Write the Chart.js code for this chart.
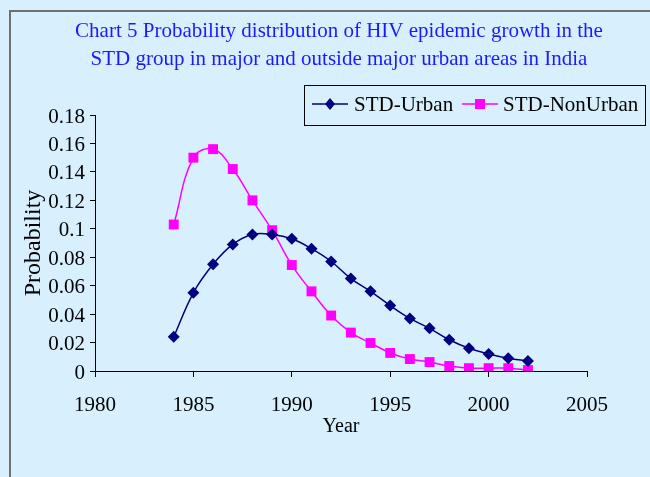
<!DOCTYPE html>
<html>
<head>
<meta charset="utf-8">
<script src="https://cdn.jsdelivr.net/npm/chart.js@4"></script>
<style>
  html, body { margin: 0; padding: 0; background: #d8f0fe; }
  canvas { display: block; }
</style>
</head>
<body>
<canvas id="chart" width="650" height="477"></canvas>
<script>
const years = [1984, 1985, 1986, 1987, 1988, 1989, 1990, 1991, 1992, 1993,
  1994, 1995, 1996, 1997, 1998, 1999, 2000, 2001, 2002];
const urban = [0.024, 0.055, 0.075, 0.089, 0.096, 0.096, 0.093, 0.086, 0.077, 0.065,
  0.056, 0.046, 0.037, 0.030, 0.022, 0.016, 0.012, 0.009, 0.007];
const nonUrban = [0.103, 0.150, 0.156, 0.142, 0.120, 0.099, 0.0745, 0.056, 0.039, 0.027,
  0.0197, 0.0127, 0.0084, 0.0063, 0.0035, 0.002, 0.002, 0.002, 0.0007];
const xTickLabels = ['1980', '1985', '1990', '1995', '2000', '2005'];
const yTickLabels = ['0', '0.02', '0.04', '0.06', '0.08', '0.1', '0.12', '0.14', '0.16', '0.18'];
const titleLines = [
  'Chart 5 Probability distribution of HIV epidemic growth in the',
  'STD group in major and outside major urban areas in India'
];

const serif = '"Liberation Serif", "Times New Roman", serif';
const bg = '#d8f0fe';

// background, frame, title and boxed legend
const decor = {
  id: 'decor',
  beforeDraw(chart) {
    const ctx = chart.ctx;
    ctx.save();
    ctx.fillStyle = bg;
    ctx.fillRect(0, 0, chart.width, chart.height);
    ctx.strokeStyle = '#707070';
    ctx.lineWidth = 2;
    ctx.beginPath();
    ctx.moveTo(10, chart.height);
    ctx.lineTo(10, 11);
    ctx.lineTo(chart.width, 11);
    ctx.stroke();

    ctx.fillStyle = '#1a1aff';
    ctx.font = '21px ' + serif;
    ctx.textAlign = 'center';
    ctx.textBaseline = 'middle';
    ctx.fillText(titleLines[0], 339, 31);
    ctx.fillText(titleLines[1], 339, 59);
    ctx.restore();
  },
  afterDraw(chart) {
    const ctx = chart.ctx;
    ctx.save();
    ctx.strokeStyle = '#000';
    ctx.lineWidth = 1;
    ctx.strokeRect(304.5, 85.5, 341, 40);
    ctx.font = '21px ' + serif;
    ctx.textBaseline = 'middle';
    ctx.textAlign = 'left';
    const items = [[312, 354], [462, 503]];
    chart.data.datasets.forEach((ds, i) => {
      const [lx, tx] = items[i];
      const y = 104;
      ctx.strokeStyle = ds.borderColor;
      ctx.lineWidth = 1.5;
      ctx.beginPath();
      ctx.moveTo(lx, y);
      ctx.lineTo(lx + 36, y);
      ctx.stroke();
      ctx.fillStyle = ds.backgroundColor;
      ctx.beginPath();
      if (ds.pointStyle === 'rect') {
        ctx.rect(lx + 13, y - 5, 10, 10);
      } else {
        ctx.moveTo(lx + 18, y - 6);
        ctx.lineTo(lx + 23, y);
        ctx.lineTo(lx + 18, y + 6);
        ctx.lineTo(lx + 13, y);
        ctx.closePath();
      }
      ctx.fill();
      ctx.fillStyle = '#000';
      ctx.fillText(ds.label, tx, y + 1);
    });
    ctx.restore();
  }
};

new Chart(document.getElementById('chart'), {
  type: 'line',
  data: {
    datasets: [{
      label: 'STD-Urban',
      data: years.map((yr, i) => ({ x: yr, y: urban[i] })),
      borderColor: '#000080',
      backgroundColor: '#000080',
      borderWidth: 1.5,
      pointStyle: 'rectRot',
      pointRadius: 6,
      pointBorderWidth: 0,
      tension: 0.4
    }, {
      label: 'STD-NonUrban',
      data: years.map((yr, i) => ({ x: yr, y: nonUrban[i] })),
      borderColor: '#ff00ff',
      backgroundColor: '#ff00ff',
      borderWidth: 1.5,
      pointStyle: 'rect',
      pointRadius: 7,
      pointBorderWidth: 0,
      tension: 0.4
    }]
  },
  options: {
    responsive: false,
    animation: false,
    layout: { padding: { top: 115, right: 63, left: 0, bottom: 0 } },
    plugins: {
      legend: { display: false },
      title: { display: false },
      tooltip: { enabled: false }
    },
    scales: {
      x: {
        type: 'linear',
        min: 1980,
        max: 2005,
        afterFit(scale) { scale.height = 106; },
        afterBuildTicks(scale) {
          scale.ticks = xTickLabels.map(t => ({ value: Number(t) }));
        },
        ticks: {
          color: '#000',
          font: { family: serif, size: 21 },
          padding: 16,
          maxRotation: 0,
          callback: (v, i) => xTickLabels[i]
        },
        grid: { drawOnChartArea: false, color: '#000', tickLength: 6 },
        border: { color: '#000', width: 1 },
        title: {
          display: true,
          text: 'Year',
          color: '#000',
          font: { family: serif, size: 20 },
          padding: { top: 0, bottom: 38 }
        }
      },
      y: {
        min: 0,
        max: 0.18,
        afterFit(scale) { scale.width = 95; },
        afterBuildTicks(scale) {
          scale.ticks = yTickLabels.map(t => ({ value: Number(t) }));
        },
        ticks: {
          color: '#000',
          font: { family: serif, size: 21 },
          padding: 5,
          labelOffset: 2,
          callback: (v, i) => yTickLabels[i]
        },
        grid: { drawOnChartArea: false, color: '#000', tickLength: 5 },
        border: { color: '#000', width: 1 },
        title: {
          display: true,
          text: 'Probability',
          color: '#000',
          font: { family: serif, size: 24 },
          padding: { top: 19, bottom: 0 }
        }
      }
    }
  },
  plugins: [decor]
});
</script>
</body>
</html>
